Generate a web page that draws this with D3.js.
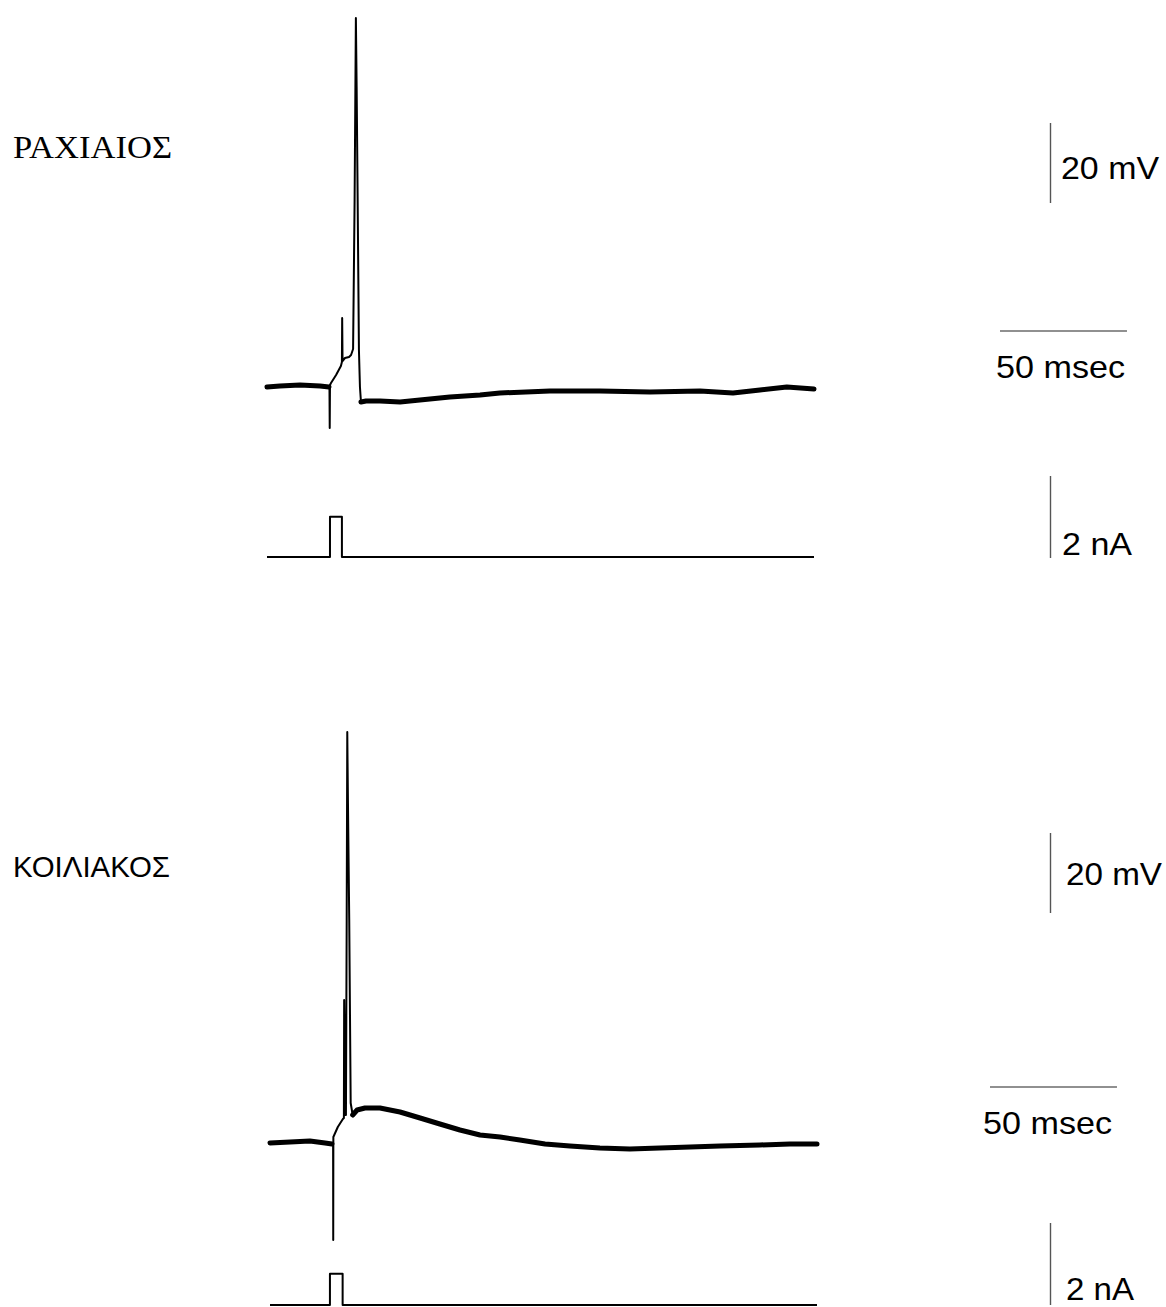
<!DOCTYPE html>
<html>
<head>
<meta charset="utf-8">
<script src="https://cdn.jsdelivr.net/npm/d3@7"></script>
<style>
  html, body { margin: 0; padding: 0; background: #fff; }
  svg { display: block; }
</style>
</head>
<body>
<div id="chart"></div>
<script>
// ---------- DATA ----------
const panelLabels = ["ΡΑΧΙΑΙΟΣ", "ΚΟΙΛΙΑΚΟΣ"];
const scaleLabels = { voltage: "20 mV", time: "50 msec", current: "2 nA" };
const scaleValues = { voltage: 20, time: 50, current: 2 }; // mV, ms, nA

// Top panel (ΡΑΧΙΑΙΟΣ) membrane potential: time (ms), relative voltage (mV)
const topVTime = [0, 5.1, 13.0, 20.9, 24.4, 24.6, 24.7, 24.8, 25.2, 27.2, 29.1, 29.5, 29.6, 29.75,
  30.7, 32.3, 33.1, 33.9, 34.5, 35.0, 35.3, 35.7, 36.2, 36.6, 37.0, 39.0, 44.5, 52.4, 60.2,
  72.0, 83.9, 91.7, 111.4, 131.1, 150.8, 170.5, 183.5, 194.1, 204.7, 215.4];
const topV = [0, 0.25, 0.5, 0.25, 0, -0.25, -10.25, 0.5, 1, 3, 5.25, 6.25, 17.25, 6.5,
  7.25, 7.5, 8.0, 9.5, 46.75, 92.25, 75, 46.75, 9.25, 0, -3.75, -3.5, -3.5, -3.75, -3.25,
  -2.5, -2.0, -1.5, -1.0, -1.0, -1.25, -1.0, -1.5, -0.75, 0, -0.5];

// Top panel injected current: time (ms), current (nA)
const topITime = [0, 24.8, 24.8, 29.5, 29.5, 215.4];
const topI = [0, 0, 0.98, 0.98, 0, 0];

// Bottom panel (ΚΟΙΛΙΑΚΟΣ) membrane potential
const botVTime = [0, 7.9, 15.7, 21.7, 24.4, 24.85, 24.9, 24.95, 26.7, 28.7, 29.1, 29.2, 29.7,
  29.9, 30.2, 30.43, 30.7, 31.2, 31.77, 32.56, 34.3, 37.4, 43.3, 51.2, 59.1, 66.9, 74.8,
  82.7, 90.6, 98.4, 108.3, 118.1, 129.9, 141.7, 153.5, 165.4, 177.2, 192.9, 204.7, 215.4];
const botV = [0, 0.25, 0.5, 0, -0.25, -0.25, -24.25, 1.5, 4.0, 6.0, 6.25, 35.75, 7.0,
  7.0, 55.75, 102.75, 85, 55.75, 10, 7, 8.25, 8.75, 8.75, 7.75, 6.25, 4.75, 3.25,
  2.0, 1.5, 0.75, -0.25, -0.75, -1.25, -1.5, -1.25, -1.0, -0.75, -0.5, -0.25, -0.25];

// Bottom panel injected current
const botITime = [0, 23.6, 23.6, 28.6, 28.6, 215.4];
const botI = [0, 0, 0.76, 0.76, 0, 0];

// Quiet (noisy-baseline) stretches of each trace, in ms
const topBaselineSpans = [[0, 24.5], [36.9, 215.4]];
const botBaselineSpans = [[0, 24.7], [32.4, 215.4]];

// ---------- DRAW ----------
const W = 1166, H = 1307;
const svg = d3.select("#chart").append("svg").attr("width", W).attr("height", H)
  .style("background", "#fff");

function zip(t, v) { return t.map((d, i) => ({ t: d, v: v[i] })); }

const panels = [
  {
    label: panelLabels[0], labelFont: "'Liberation Serif', 'Times New Roman', serif",
    labelX: 13, labelY: 158, labelLen: 159, labelSize: 32,
    x: d3.scaleLinear().domain([0, 215.4]).range([267, 814]),
    yV: d3.scaleLinear().domain([-15, 95]).range([447, 7]),
    yI: d3.scaleLinear().domain([0, 2]).range([557, 475]),
    v: zip(topVTime, topV), i: zip(topITime, topI), spans: topBaselineSpans,
    bars: { vx: 1050.5, vy: 123, vtx: 1061, vty: 179, vlen: 98,
            tx: 1000, ty: 331, ttx: 996, tty: 378, tlen: 129,
            ix: 1050.5, iy: 476, itx: 1062, ity: 555, ilen: 70 }
  },
  {
    label: panelLabels[1], labelFont: "'Liberation Sans', Arial, sans-serif",
    labelX: 13, labelY: 877, labelLen: 157, labelSize: 29,
    x: d3.scaleLinear().domain([0, 215.4]).range([270, 817]),
    yV: d3.scaleLinear().domain([-30, 110]).range([1263, 703]),
    yI: d3.scaleLinear().domain([0, 2]).range([1305, 1223]),
    v: zip(botVTime, botV), i: zip(botITime, botI), spans: botBaselineSpans,
    bars: { vx: 1050.5, vy: 833, vtx: 1066, vty: 885, vlen: 96,
            tx: 990, ty: 1087, ttx: 983, tty: 1134, tlen: 129,
            ix: 1050.5, iy: 1223, itx: 1066, ity: 1300, ilen: 68 }
  }
];

panels.forEach(p => {
  const g = svg.append("g");

  // panel label
  g.append("text")
    .attr("x", p.labelX).attr("y", p.labelY)
    .attr("font-family", p.labelFont).attr("font-size", p.labelSize)
    .attr("textLength", p.labelLen).attr("lengthAdjust", "spacingAndGlyphs")
    .attr("fill", "#000").text(p.label);

  const lineV = d3.line().x(d => p.x(d.t)).y(d => p.yV(d.v));
  const lineI = d3.line().x(d => p.x(d.t)).y(d => p.yI(d.v));

  // noisy baseline band (thicker stroke on quiet stretches)
  p.spans.forEach(([a, b]) => {
    const seg = p.v.filter(d => d.t >= a && d.t <= b);
    g.append("path").datum(seg)
      .attr("d", lineV).attr("fill", "none")
      .attr("stroke", "#000").attr("stroke-width", 5)
      .attr("stroke-linejoin", "round").attr("stroke-linecap", "round");
  });

  // full voltage trace
  g.append("path").datum(p.v)
    .attr("d", lineV).attr("fill", "none")
    .attr("stroke", "#000").attr("stroke-width", 2)
    .attr("stroke-linejoin", "round");

  // current trace
  g.append("path").datum(p.i)
    .attr("d", lineI).attr("fill", "none")
    .attr("stroke", "#000").attr("stroke-width", 2)
    .attr("stroke-linejoin", "round");

  // scale bars
  const b = p.bars;
  const vLen = p.yV(0) - p.yV(scaleValues.voltage);
  const tLen = p.x(scaleValues.time) - p.x(0);
  const iLen = p.yI(0) - p.yI(scaleValues.current);
  g.append("line").attr("x1", b.vx).attr("x2", b.vx).attr("y1", b.vy).attr("y2", b.vy + vLen)
    .attr("stroke", "#555").attr("stroke-width", 1.4);
  g.append("line").attr("x1", b.tx).attr("x2", b.tx + tLen).attr("y1", b.ty).attr("y2", b.ty)
    .attr("stroke", "#222").attr("stroke-width", 1.2);
  g.append("line").attr("x1", b.ix).attr("x2", b.ix).attr("y1", b.iy).attr("y2", b.iy + iLen)
    .attr("stroke", "#555").attr("stroke-width", 1.4);

  const sans = "'Liberation Sans', Arial, sans-serif";
  g.append("text").attr("x", b.vtx).attr("y", b.vty).attr("font-family", sans)
    .attr("font-size", 32).attr("textLength", b.vlen).attr("lengthAdjust", "spacingAndGlyphs")
    .text(scaleLabels.voltage);
  g.append("text").attr("x", b.ttx).attr("y", b.tty).attr("font-family", sans)
    .attr("font-size", 32).attr("textLength", b.tlen).attr("lengthAdjust", "spacingAndGlyphs")
    .text(scaleLabels.time);
  g.append("text").attr("x", b.itx).attr("y", b.ity).attr("font-family", sans)
    .attr("font-size", 32).attr("textLength", b.ilen).attr("lengthAdjust", "spacingAndGlyphs")
    .text(scaleLabels.current);
});
</script>
</body>
</html>
